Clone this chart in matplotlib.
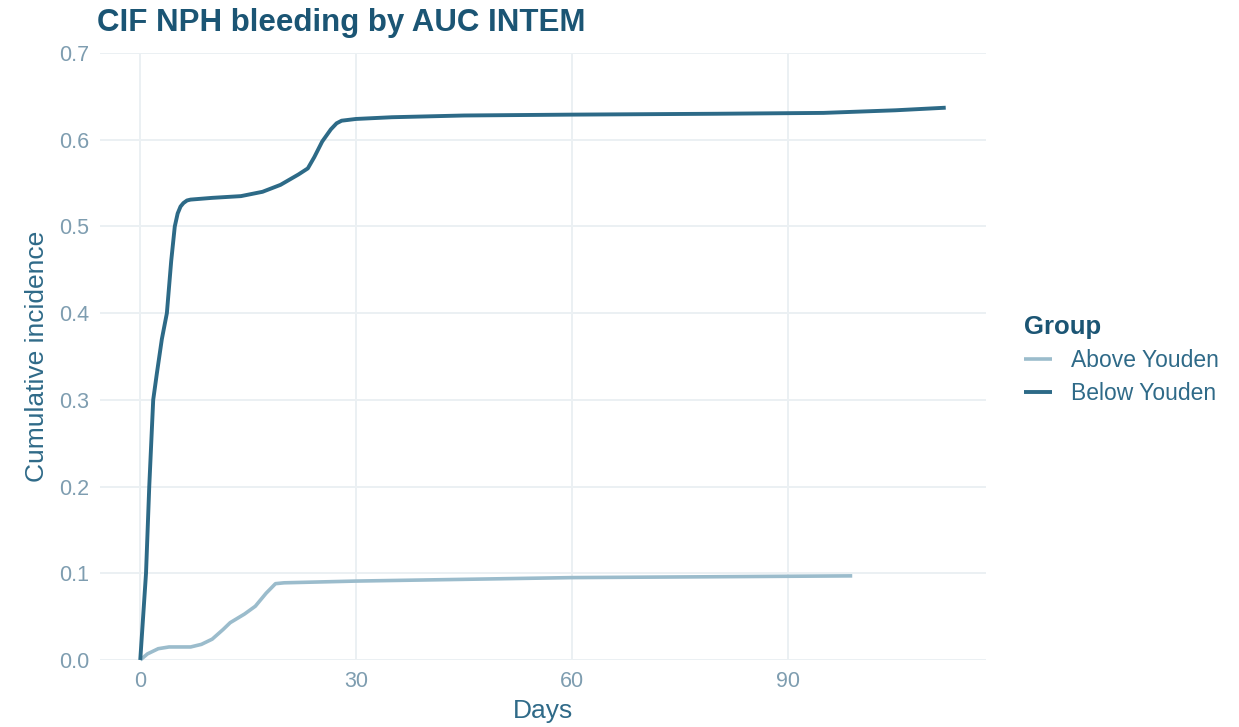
import matplotlib
matplotlib.use("Agg")
import matplotlib.pyplot as plt

plt.rcParams['font.family'] = ['Liberation Sans', 'DejaVu Sans']

#-------- DONNEES --------
jours_below = [0, 0.8, 1.25, 1.8, 2.3, 3.0, 3.7, 4.3, 4.8, 5.2, 5.6, 6.0, 6.5, 7.0, 8.5, 10,
               14, 17, 19.5, 22, 23.3, 24.2, 25.3, 26.5, 27.3, 28, 30, 35, 45, 60, 80, 95,
               105, 112]
cif_below = [0, 0.10, 0.20, 0.30, 0.33, 0.37, 0.40, 0.46, 0.50, 0.515, 0.523, 0.527, 0.530,
             0.531, 0.532, 0.533, 0.535, 0.540, 0.548, 0.560, 0.567, 0.580, 0.598, 0.612,
             0.619, 0.622, 0.624, 0.626, 0.628, 0.629, 0.630, 0.631, 0.634, 0.637]

jours_above = [0, 1, 2.5, 4, 7, 8.5, 10, 11.5, 12.5, 14.5, 16, 17.5, 18.8, 20, 25, 30, 45,
               60, 80, 99]
cif_above = [0, 0.007, 0.013, 0.015, 0.015, 0.018, 0.024, 0.035, 0.043, 0.053, 0.062, 0.077,
             0.088, 0.089, 0.090, 0.091, 0.093, 0.095, 0.096, 0.097]

x_ticks = [0, 30, 60, 90]
y_ticks = [0.0, 0.1, 0.2, 0.3, 0.4, 0.5, 0.6, 0.7]

#-------- COULEURS --------
col_below = '#2d6a87'
col_above = '#9bbccc'
col_titre = '#1b5574'
col_label = '#2f6a88'
col_ticks = '#7e9db0'
col_grid = '#ebf0f3'

fig = plt.figure(figsize=(12.39, 7.27), dpi=100)
ax = fig.add_axes([0.0807, 0.0922, 0.7151, 0.8348])

ax.plot(jours_above, cif_above, color=col_above, lw=2.6, label='Above Youden',
        solid_capstyle='butt', solid_joinstyle='round', clip_on=False, zorder=3)
ax.plot(jours_below, cif_below, color=col_below, lw=2.8, label='Below Youden',
        solid_capstyle='butt', solid_joinstyle='round', clip_on=False, zorder=4)

ax.set_xlim(-5.6, 117.6)
ax.set_ylim(0, 0.7)
ax.set_xticks(x_ticks)
ax.set_yticks(y_ticks)
ax.set_yticklabels([f"{v:.1f}" for v in y_ticks])

ax.grid(True, color=col_grid, lw=1.4)
ax.set_axisbelow(True)
for s in ax.spines.values():
    s.set_visible(False)
ax.tick_params(length=0, labelsize=15.5, labelcolor=col_ticks, pad=8)

ax.set_xlabel("Days", fontsize=19, color=col_label, labelpad=5)
ax.set_ylabel("Cumulative incidence", fontsize=19, color=col_label, labelpad=7)

fig.text(0.078, 0.968, "CIF NPH bleeding by AUC INTEM", fontsize=22.5, fontweight='bold',
         color=col_titre, ha='left', va='center')

leg = ax.legend(title="Group", loc='center left', bbox_to_anchor=(0.81, 0.505),
                bbox_transform=fig.transFigure, frameon=False, fontsize=16.5,
                title_fontproperties={'weight': 'bold', 'size': 18.5},
                handlelength=1.2, handletextpad=0.85, labelspacing=0.45)
leg._legend_box.align = "left"
leg.get_title().set_color(col_titre)
for t in leg.get_texts():
    t.set_color(col_label)

fig.savefig("out.png", dpi=100)
